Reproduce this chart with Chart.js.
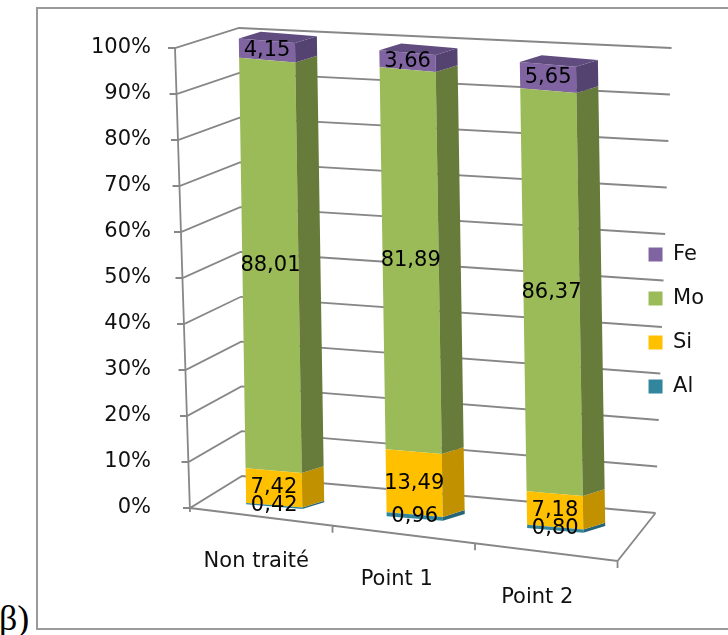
<!DOCTYPE html>
<html>
<head>
<meta charset="utf-8">
<script src="https://cdn.jsdelivr.net/npm/chart.js@4.4.1/dist/chart.umd.min.js"></script>
<style>
  body { margin: 0; background: #fff; overflow: hidden; }
  #frame { position: absolute; left: 36px; top: 7px; width: 720px; height: 623px; box-sizing: border-box; border: 2px solid #9a9a9a; }
  #tag { position: absolute; left: -1px; top: 600px; font: 36px/1 "Liberation Serif", serif; color: #000; }
  canvas { position: absolute; left: 0; top: 0; }
</style>
</head>
<body>
<div id="frame"></div>
<div id="tag">β)</div>
<canvas id="chart" width="728" height="635"></canvas>
<script>
// composition (%) per sample
var categories = ['Non traité', 'Point 1', 'Point 2'];
var al = [0.42, 0.96, 0.80];
var si = [7.42, 13.49, 7.18];
var mo = [88.01, 81.89, 86.37];
var fe = [4.15, 3.66, 5.65];

var names = ['Al', 'Si', 'Mo', 'Fe'];
var values = [al, si, mo, fe];
var fronts = ['#31859C', '#FFC000', '#9BBB59', '#8064A2'];
var sides = ['#24657a', '#c29100', '#677c3b', '#544270'];
var topFace = '#604c7e';

// fake 3d: lean of the verticals, stretch, floor slope, lift of the columns
var LEAN = 0.016, RISE = 0.014, SLOPE = 0.084, LIFT = 11;
var DEPTH_X = 22, DEPTH_Y = 8.5;
var LEGEND_OFFSET = 173;

Chart.defaults.font.family = '"DejaVu Sans", sans-serif';
Chart.defaults.font.size = 21;

function viewMatrix(ca) {
  var x0 = (ca.left + ca.right) / 2;
  return [1, SLOPE, LEAN, 1 + RISE, -LEAN * ca.bottom, -RISE * ca.bottom - SLOPE * x0 + LIFT];
}
function project(ca, x, y) {
  var m = viewMatrix(ca);
  return [m[0] * x + m[2] * y + m[4], m[1] * x + m[3] * y + m[5]];
}
function lerp(a, b, t) {
  return [a[0] + (b[0] - a[0]) * t, a[1] + (b[1] - a[1]) * t];
}

var scene = {
  id: 'scene',
  afterLayout: function(chart) {
    // legend column sits in the lower half
    var dy = chart.chartArea.top + LEGEND_OFFSET - chart.legend.top;
    chart.legend.top += dy;
    chart.legend.bottom += dy;
  },
  beforeDatasetsDraw: function(chart) {
    var ctx = chart.ctx, ca = chart.chartArea;
    var ys = chart.scales.y, xs = chart.scales.x;
    var flb = [ca.left - 14, ca.bottom], flt = [ca.left - 29, ca.top];
    var blb = [ca.left + 38, ca.bottom - 32], blt = [ca.left + 35, ca.top - 20];
    var brb = [ca.right + 30, ca.bottom + 5], brt = [ca.right + 46, ca.top];
    var frb = [ca.right - 8, ca.bottom + 53];

    ctx.save();
    ctx.strokeStyle = '#878787';
    ctx.lineWidth = 1.8;
    ctx.beginPath();
    // gridlines: tick, left wall, back wall
    ys.ticks.forEach(function(tk) {
      var py = ys.getPixelForValue(tk.value);
      var t = (py - ca.bottom) / (ca.top - ca.bottom);
      var f = lerp(flb, flt, t), bl = lerp(blb, blt, t), br = lerp(brb, brt, t);
      ctx.moveTo(f[0] - 7, py);
      ctx.lineTo(f[0], py);
      ctx.lineTo(bl[0], bl[1]);
      ctx.lineTo(br[0], br[1]);
    });
    // value axis
    ctx.moveTo(flt[0], flt[1]);
    ctx.lineTo(flb[0], flb[1] + 4);
    // floor front and right edges
    ctx.moveTo(flb[0], flb[1]);
    ctx.lineTo(frb[0], frb[1]);
    ctx.lineTo(brb[0], brb[1]);
    // category ticks
    for (var i = 0; i < categories.length; i++) {
      var edge = i < categories.length - 1
        ? (xs.getPixelForValue(i) + xs.getPixelForValue(i + 1)) / 2
        : ca.right;
      var p = lerp(flb, frb, (edge - ca.left) / ca.width);
      ctx.moveTo(p[0], p[1]);
      ctx.lineTo(p[0], p[1] + 7);
    }
    ctx.stroke();
    ctx.restore();

    ctx.save();
    var m = viewMatrix(ca);
    ctx.transform(m[0], m[1], m[2], m[3], m[4], m[5]);
  },
  afterDatasetsDraw: function(chart) {
    var ctx = chart.ctx, ca = chart.chartArea;
    var last = values.length - 1;
    // side and top faces of the columns
    values.forEach(function(v, di) {
      chart.getDatasetMeta(di).data.forEach(function(bar) {
        var p = bar.getProps(['x', 'y', 'base', 'width'], true);
        var l = p.x - p.width / 2, r = p.x + p.width / 2;
        var top = Math.min(p.y, p.base), bot = Math.max(p.y, p.base);
        ctx.fillStyle = sides[di];
        ctx.beginPath();
        ctx.moveTo(r, top);
        ctx.lineTo(r + DEPTH_X, top - DEPTH_Y);
        ctx.lineTo(r + DEPTH_X, bot - DEPTH_Y);
        ctx.lineTo(r, bot);
        ctx.closePath();
        ctx.fill();
        if (di === last) {
          ctx.fillStyle = topFace;
          ctx.beginPath();
          ctx.moveTo(l, top);
          ctx.lineTo(l + DEPTH_X, top - DEPTH_Y);
          ctx.lineTo(r + DEPTH_X, top - DEPTH_Y);
          ctx.lineTo(r, top);
          ctx.closePath();
          ctx.fill();
        }
      });
    });
    ctx.restore();

    // value labels
    ctx.save();
    ctx.font = '21px "DejaVu Sans", sans-serif';
    ctx.fillStyle = '#000';
    ctx.textAlign = 'center';
    ctx.textBaseline = 'middle';
    values.forEach(function(v, di) {
      chart.getDatasetMeta(di).data.forEach(function(bar, j) {
        var p = bar.getProps(['x', 'y', 'base'], true);
        var c = project(ca, p.x, (p.y + p.base) / 2);
        ctx.fillText(v[j].toFixed(2).replace('.', ','), c[0], c[1]);
      });
    });
    ctx.restore();
  }
};

new Chart(document.getElementById('chart'), {
  type: 'bar',
  data: {
    labels: categories,
    datasets: values.map(function(v, i) {
      return {
        label: names[i],
        data: v,
        backgroundColor: fronts[i],
        borderWidth: 0,
        clip: false
      };
    })
  },
  options: {
    responsive: false,
    animation: false,
    layout: { padding: { top: 48, right: 14 } },
    datasets: { bar: { categoryPercentage: 1, barPercentage: 0.4 } },
    scales: {
      x: {
        stacked: true,
        grid: { display: false, drawTicks: false },
        border: { display: false },
        ticks: {
          padding: 45,
          labelOffset: -18,
          color: '#111',
          font: { size: 21, lineHeight: 0.85 },
          // stagger the names down, one line per category
          callback: function(v, i) {
            var lines = [];
            for (var k = 0; k < i; k++) lines.push('');
            lines.push(categories[i]);
            return lines;
          }
        },
        afterFit: function(s) { s.height = 127; }
      },
      y: {
        stacked: true,
        min: 0,
        max: 100,
        // invisible tick marks keep the labels away from the wall
        grid: { drawOnChartArea: false, drawTicks: true, tickLength: 50, color: 'rgba(0,0,0,0)' },
        border: { display: false },
        ticks: {
          stepSize: 10,
          padding: 3,
          color: '#111',
          font: { size: 21 },
          callback: function(v) { return v + '%'; }
        },
        afterFit: function(s) { s.width = 204; }
      }
    },
    plugins: {
      legend: {
        position: 'right',
        align: 'start',
        reverse: true,
        labels: { boxWidth: 14, boxHeight: 14, padding: 23, color: '#111', font: { size: 21 } }
      },
      tooltip: { enabled: false }
    }
  },
  plugins: [scene]
});
</script>
</body>
</html>
